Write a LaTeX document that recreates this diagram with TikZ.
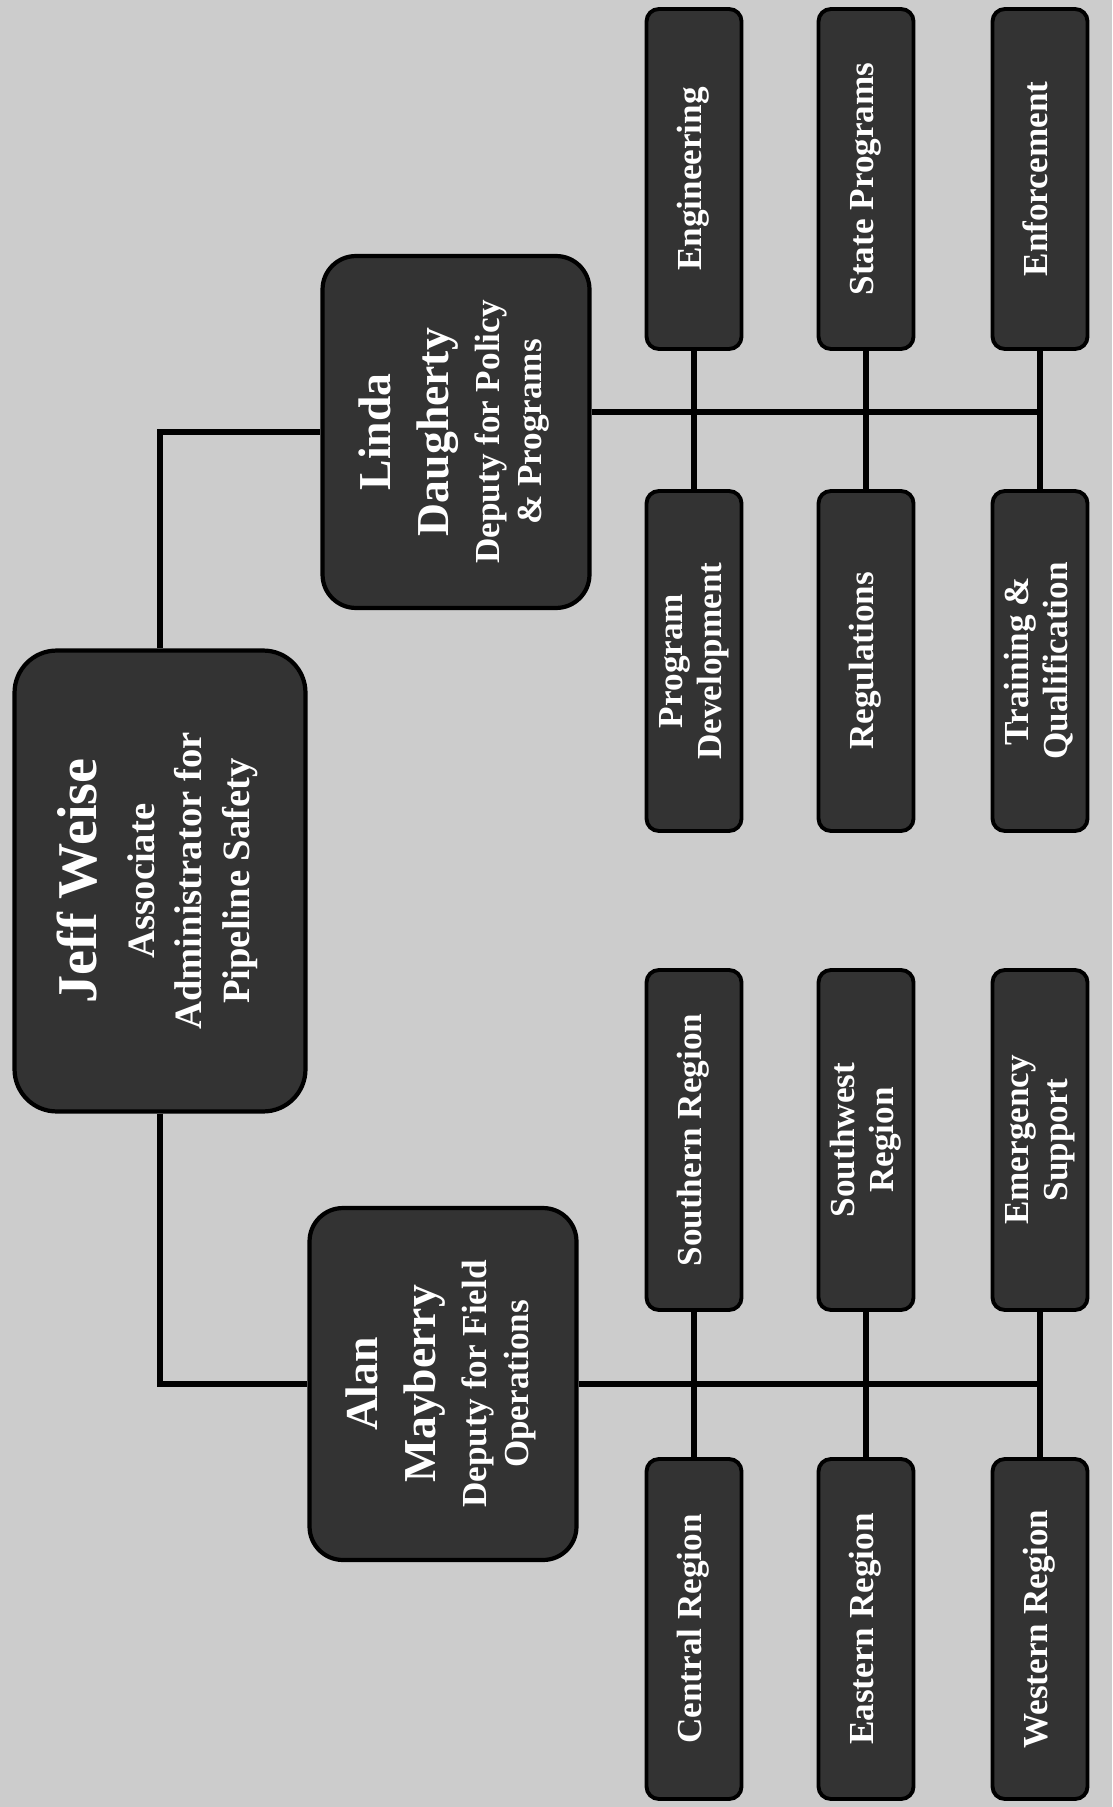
\documentclass[tikz,border=0pt]{standalone}
\usepackage{fontspec}
\setmainfont{Liberation Serif}
\usepackage{graphicx}
\usepackage{tikz}

% text set sideways, read from bottom to top
\newcommand{\vlabel}[1]{\rotatebox{90}{\begin{tabular}{@{}c@{}}#1\end{tabular}}}
\newcommand{\bigname}[1]{{\fontsize{26}{30}\selectfont #1}}

\begin{document}
\begin{tikzpicture}[
    x=0.02cm, y=-0.02cm,
    link_line/.style={draw=black, line width=3.2pt},
    % Top node
    chief_node/.style={rectangle, rounded corners=24pt, draw=black, fill=black!80, line width=2.4pt, minimum width=5.82cm, minimum height=9.22cm, inner sep=0pt, text=white, font=\fontsize{22}{27}\selectfont\bfseries},
    % Deputies
    deputy_node/.style={rectangle, rounded corners=19pt, draw=black, fill=black!80, line width=2.4pt, minimum width=5.34cm, minimum height=7.04cm, inner sep=0pt, text=white, font=\fontsize{20}{22}\selectfont\bfseries},
    % Offices
    unit_node/.style={rectangle, rounded corners=7pt, draw=black, fill=black!80, line width=2.2pt, minimum width=1.9cm, minimum height=6.8cm, inner sep=0pt, text=white, font=\fontsize{20}{22}\selectfont\bfseries}
]
    \useasboundingbox (0,0) rectangle (1112,1807);
    \fill [black!20] (0,0) rectangle (1112,1807);

    % =========================================================================
    % ASSOCIATE ADMINISTRATOR
    % =========================================================================
    \node [chief_node] (jeff) at (160, 881) {\vlabel{{\fontsize{32}{36}\selectfont Jeff Weise}\\[6pt] Associate\\ Administrator for\\ Pipeline Safety}};

    % =========================================================================
    % DEPUTIES
    % =========================================================================
    \node [deputy_node] (linda) at (456, 432) {\vlabel{\bigname{Linda}\\[8pt] \bigname{Daugherty}\\[7pt] Deputy for Policy\\[2pt] \& Programs}};
    \node [deputy_node] (alan) at (443, 1384) {\vlabel{\bigname{Alan}\\[8pt] \bigname{Mayberry}\\[7pt] Deputy for Field\\[2pt] Operations}};

    \draw [link_line] (jeff.north) |- (linda.west);
    \draw [link_line] (jeff.south) |- (alan.west);

    % =========================================================================
    % POLICY & PROGRAMS OFFICES
    % =========================================================================
    \node [unit_node] (eng) at (694, 179) {\vlabel{Engineering}};
    \node [unit_node] (stateprog) at (866, 179) {\vlabel{State Programs}};
    \node [unit_node] (enf) at (1040, 179) {\vlabel{Enforcement}};
    \node [unit_node] (progdev) at (694, 661) {\vlabel{Program\\ Development}};
    \node [unit_node] (regs) at (866, 661) {\vlabel{Regulations}};
    \node [unit_node] (training) at (1040, 661) {\vlabel{Training \&\\ Qualification}};

    \draw [link_line] ([yshift=0.4cm]linda.east) -- ([yshift=0.4cm]linda.east -| enf.south);
    \draw [link_line] (eng.south) -- (progdev.north);
    \draw [link_line] (stateprog.south) -- (regs.north);
    \draw [link_line] (enf.south) -- (training.north);

    % =========================================================================
    % FIELD OPERATIONS REGIONS
    % =========================================================================
    \node [unit_node] (southern) at (694, 1140) {\vlabel{Southern Region}};
    \node [unit_node] (southwest) at (866, 1140) {\vlabel{Southwest\\ Region}};
    \node [unit_node] (emergency) at (1040, 1140) {\vlabel{Emergency\\ Support}};
    \node [unit_node] (central) at (694, 1629) {\vlabel{Central Region}};
    \node [unit_node] (eastern) at (866, 1629) {\vlabel{Eastern Region}};
    \node [unit_node] (western) at (1040, 1629) {\vlabel{Western Region}};

    \draw [link_line] (alan.east) -- (alan.east -| emergency.south);
    \draw [link_line] (southern.south) -- (central.north);
    \draw [link_line] (southwest.south) -- (eastern.north);
    \draw [link_line] (emergency.south) -- (western.north);
\end{tikzpicture}
\end{document}
